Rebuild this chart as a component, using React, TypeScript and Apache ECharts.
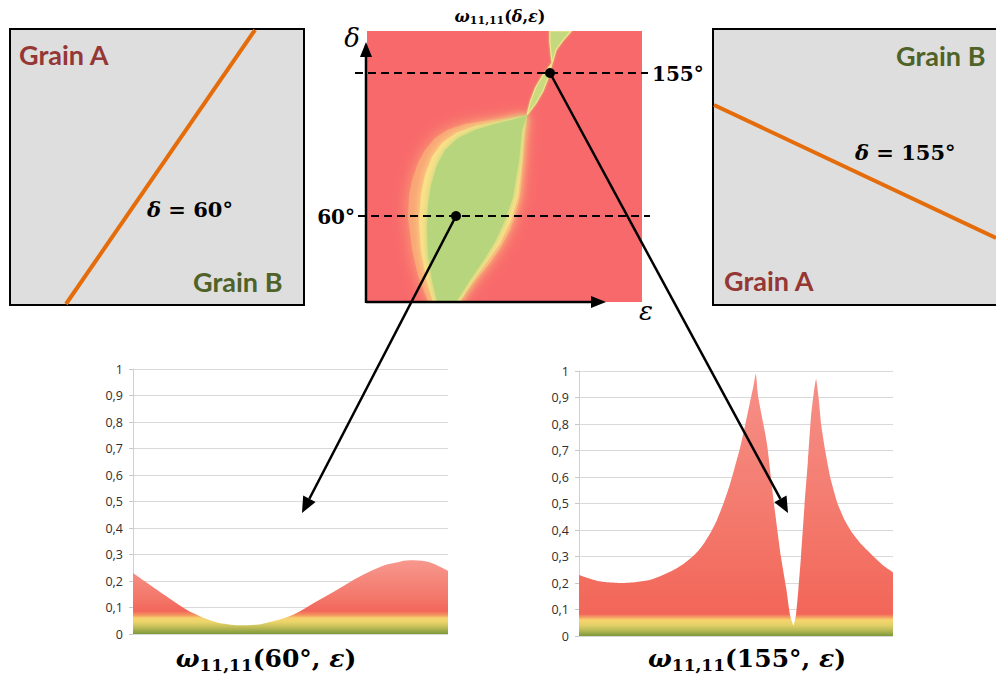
import React, { useEffect, useRef } from 'react';
import * as echarts from 'echarts';

// ---------- data ----------
const Y_TICK_LABELS = ['0', '0,1', '0,2', '0,3', '0,4', '0,5', '0,6', '0,7', '0,8', '0,9', '1'];

// omega_{11,11}(60°, eps) ; eps in % of range
const EPS_60 = [0, 5.3, 10.6, 16.9, 21.2, 26.5, 30, 33.9, 39.2, 44.4, 50.8, 58.2, 65.6, 72, 79.4, 84, 87.8, 93.1, 100];
const OMEGA_60 = [0.23, 0.186, 0.142, 0.092, 0.067, 0.044, 0.037, 0.033, 0.035, 0.048, 0.073, 0.123, 0.173, 0.217, 0.258, 0.271, 0.278, 0.274, 0.239];

// omega_{11,11}(155°, eps)
const EPS_155 = [0, 3, 6, 9, 13.5, 18, 22, 25, 28, 31, 33.5, 36, 38, 40, 42, 44, 46, 48, 49.5, 51.3, 53, 54.5, 55.5, 56.3, 57.1, 59.8, 62.2, 64.3, 66, 67.2, 68.3, 69.1, 69.9, 70.7, 71.8, 72.9, 73.9, 74.9, 75.5, 76.3, 77.1, 78.4, 80, 82.2, 84.5, 87, 90, 93.8, 97, 100];
const OMEGA_155 = [0.23, 0.218, 0.208, 0.203, 0.2, 0.203, 0.21, 0.222, 0.237, 0.255, 0.274, 0.298, 0.322, 0.353, 0.392, 0.44, 0.5, 0.57, 0.632, 0.71, 0.8, 0.885, 0.94, 0.99, 0.9, 0.73, 0.49, 0.3, 0.18, 0.08, 0.04, 0.08, 0.18, 0.3, 0.49, 0.66, 0.83, 0.93, 0.97, 0.9, 0.8, 0.7, 0.6, 0.505, 0.44, 0.39, 0.345, 0.3, 0.265, 0.24];

// heat-map low-value regions, outlines as [eps %, delta °]
const LENS_HALO = [[22.2, 0], [18.5, 17.9], [16.4, 34.5], [14.9, 56.5], [15.3, 71.1], [16.4, 81], [18.5, 92.3], [21.1, 101], [24.7, 108.9], [29.1, 114.2], [35.6, 118.2], [42.9, 120.2], [52, 122.2], [58.2, 124.2], [57.5, 112.2], [56.7, 92.3], [55.6, 69.7], [53.8, 57.8], [52, 47.8], [48.4, 35.9], [44.7, 25.9], [40.4, 16.6], [37.5, 10], [34.5, 4], [33.1, 0]];
const LENS_YELLOW = [[24, 0], [21.5, 15.9], [19.6, 34.5], [18.9, 53.1], [19.6, 71.1], [21.1, 84.4], [23.6, 96.3], [27.3, 105.6], [32.4, 112.2], [39.3, 116.9], [48.4, 120.2], [58.2, 124.2], [57.1, 110.9], [56.4, 93], [54.9, 69.7], [52.4, 54.5], [48.4, 39.2], [43.6, 26.6], [38.5, 13.9], [33.8, 0]];
const LENS_GREEN = [[25.5, 0], [23.6, 14.6], [22.2, 31.2], [21.8, 47.8], [22.2, 64.4], [23.3, 77.7], [25.5, 91], [28.4, 101], [33.1, 108.9], [39.3, 114.2], [46.5, 118.2], [53.8, 121.5], [58.2, 124.2], [56.4, 114.2], [55.3, 94.3], [53.1, 69.7], [50.2, 54.5], [46.9, 41.2], [42.5, 27.9], [37.5, 14.6], [32.4, 0]];
const LENS_MID = [[58.2, 124.2], [61.4, 132], [64, 140.3], [65.9, 149.3], [67.3, 158.7], [64.1, 150.9], [61.4, 142.6], [59.5, 133.6]];
const LENS_TOP = [[67.3, 158.7], [68.7, 167.4], [71.3, 174], [74.2, 180], [66.5, 180], [66.5, 172.7], [66.9, 165.4]];

const LENS_LAYERS = [
  { pts: LENS_HALO, fill: '#F9A675', blur: 16, stroke: 'none', lw: 0 },
  { pts: LENS_YELLOW, fill: '#FBE088', blur: 8, stroke: 'none', lw: 0 },
  { pts: LENS_GREEN, fill: '#B6D57D', blur: 6, stroke: 'none', lw: 0 },
  { pts: LENS_MID, fill: '#C9DA80', blur: 2, stroke: '#F6E58A', lw: 1.2 },
  { pts: LENS_TOP, fill: '#C4D97F', blur: 2, stroke: '#F6E58A', lw: 1.2 },
];

const MATH = 'DejaVu Serif';

function arrow(x1: number, y1: number, x2: number, y2: number, head = 16, half = 7, lw = 2.5) {
  const dx = x2 - x1, dy = y2 - y1;
  const L = Math.hypot(dx, dy);
  const ux = dx / L, uy = dy / L;
  const bx = x2 - head * ux, by = y2 - head * uy;
  const nx = -uy, ny = ux;
  return [
    { type: 'line', z: 100, shape: { x1, y1, x2: bx, y2: by }, style: { stroke: '#000', lineWidth: lw } },
    { type: 'polygon', z: 100, shape: { points: [[x2, y2], [bx + half * nx, by + half * ny], [bx - half * nx, by - half * ny]] }, style: { fill: '#000' } },
  ];
}

function txt(x: number, y: number, text: string, font: string, fill: string, align = 'left', valign = 'middle', rich?: any) {
  return {
    type: 'text', z: 110,
    style: { x, y, text, font, fill, align, textAlign: align, verticalAlign: valign, textVerticalAlign: valign, rich },
  };
}

function omegaRich(main: number, sub: number) {
  const lh = Math.round(main * 1.25);
  return {
    w: { fontFamily: MATH, fontSize: main, fontWeight: 'bold', fontStyle: 'italic', fill: '#000', lineHeight: lh, verticalAlign: 'middle' },
    s: { fontFamily: MATH, fontSize: sub, fontWeight: 'bold', fill: '#000', lineHeight: Math.round(sub * 1.1), verticalAlign: 'bottom' },
    p: { fontFamily: MATH, fontSize: main, fontWeight: 'bold', fill: '#000', lineHeight: lh, verticalAlign: 'middle' },
    i: { fontFamily: MATH, fontSize: main, fontWeight: 'bold', fontStyle: 'italic', fill: '#000', lineHeight: lh, verticalAlign: 'middle' },
  };
}

function areaGradient(yTop: number, yBottom: number, stops: [number, string][]) {
  return new echarts.graphic.LinearGradient(0, yTop, 0, yBottom,
    stops.map(([y, c]) => ({ offset: (y - yTop) / (yBottom - yTop), color: c })), true);
}

export default function App() {
  const ref = useRef<HTMLDivElement>(null);

  useEffect(() => {
    if (!ref.current) return;
    const chart = echarts.init(ref.current, undefined, { renderer: 'svg' });

    const yAxisCommon = (gridIndex: number) => ({
      type: 'value', gridIndex, min: 0, max: 1, interval: 0.1,
      axisLine: { show: true, lineStyle: { color: '#D0D0D0', width: 1 } },
      axisTick: { show: true, length: 4, lineStyle: { color: '#C8C8C8' } },
      axisLabel: {
        margin: 10, color: '#2E2E2E', fontFamily: 'Open Sans', fontSize: 12.5,
        formatter: (v: number) => Y_TICK_LABELS[Math.round(v * 10)],
      },
      splitLine: { show: true, lineStyle: { color: '#D9D9D9', width: 1 } },
    });

    const deltaRich = {
      i: { fontFamily: MATH, fontSize: 21, fontWeight: 'bold', fontStyle: 'italic', fill: '#000' },
      p: { fontFamily: MATH, fontSize: 21, fontWeight: 'bold', fill: '#000' },
    };

    const graphics: any[] = [
      // left grain box
      { type: 'rect', z: 1, shape: { x: 10, y: 29, width: 294, height: 276 }, style: { fill: '#DEDEDE', stroke: '#000', lineWidth: 2 } },
      { type: 'line', z: 2, shape: { x1: 255, y1: 30, x2: 66, y2: 304 }, style: { stroke: '#E46C0A', lineWidth: 4 } },
      txt(19, 54, 'Grain A', 'bold 27px Lato', '#953735'),
      txt(193, 281, 'Grain B', 'bold 27px Lato', '#4F6228'),
      txt(147, 209, '{i|δ}{p| = 60°}', '', '#000', 'left', 'middle', deltaRich),
      // right grain box
      { type: 'rect', z: 1, shape: { x: 713, y: 29, width: 300, height: 276 }, style: { fill: '#DEDEDE', stroke: '#000', lineWidth: 2 } },
      { type: 'line', z: 2, shape: { x1: 714, y1: 105, x2: 996, y2: 238 }, style: { stroke: '#E46C0A', lineWidth: 4 } },
      txt(896, 55, 'Grain B', 'bold 27px Lato', '#4F6228'),
      txt(724, 280, 'Grain A', 'bold 27px Lato', '#953735'),
      txt(855, 152, '{i|δ}{p| = 155°}', '', '#000', 'left', 'middle', deltaRich),
      // heat-map annotations
      txt(500, 16, '{w|ω}{s|11,11}{p|(}{i|δ}{p|,}{i|ε}{p|)}', '', '#000', 'center', 'middle', omegaRich(16, 11)),
      txt(352, 38, 'δ', 'italic 26px "DejaVu Serif"', '#000', 'center', 'middle'),
      txt(646, 311, 'ε', 'italic 26px "DejaVu Serif"', '#000', 'center', 'middle'),
      ...arrow(366, 303, 366, 42, 15, 6, 2.5),
      ...arrow(366, 302, 606, 302, 15, 6, 2.5),
      { type: 'line', z: 100, shape: { x1: 355, y1: 73, x2: 648, y2: 73 }, style: { stroke: '#000', lineWidth: 2, lineDash: [8, 5] } },
      { type: 'line', z: 100, shape: { x1: 358, y1: 216, x2: 650, y2: 216 }, style: { stroke: '#000', lineWidth: 2, lineDash: [8, 5] } },
      txt(652, 74, '155°', `bold 20px "${MATH}"`, '#000', 'left', 'middle'),
      txt(355, 217, '60°', `bold 20px "${MATH}"`, '#000', 'right', 'middle'),
      ...arrow(456, 216, 302, 513, 16, 7, 2.5),
      ...arrow(550, 73, 788, 513, 16, 7, 2.5),
      { type: 'circle', z: 105, shape: { cx: 456, cy: 216, r: 5 }, style: { fill: '#000' } },
      { type: 'circle', z: 105, shape: { cx: 550, cy: 73, r: 5 }, style: { fill: '#000' } },
      // bottom captions
      txt(266, 658, '{w|ω}{s|11,11}{p|(60°, }{i|ε}{p|)}', '', '#000', 'center', 'middle', omegaRich(25, 17)),
      txt(747, 658, '{w|ω}{s|11,11}{p|(155°, }{i|ε}{p|)}', '', '#000', 'center', 'middle', omegaRich(25, 17)),
    ];

    chart.setOption({
      animation: false,
      backgroundColor: '#FFFFFF',
      grid: [
        { left: 367, top: 31, width: 275, height: 271, show: true, backgroundColor: '#F8696B', borderWidth: 0 },
        { left: 133, top: 369, width: 315, height: 265 },
        { left: 579, top: 371, width: 314, height: 265 },
      ],
      xAxis: [
        { type: 'value', gridIndex: 0, min: 0, max: 100, show: false },
        { type: 'value', gridIndex: 1, min: 0, max: 100, show: false },
        { type: 'value', gridIndex: 2, min: 0, max: 100, show: false },
      ],
      yAxis: [
        { type: 'value', gridIndex: 0, min: 0, max: 180, show: false },
        yAxisCommon(1),
        yAxisCommon(2),
      ],
      series: [
        {
          type: 'custom', xAxisIndex: 0, yAxisIndex: 0, clip: true,
          data: LENS_LAYERS.map((_, i) => [i, 0]),
          renderItem: (params: any, api: any) => {
            const s = LENS_LAYERS[params.dataIndex];
            return {
              type: 'polygon',
              shape: { points: s.pts.map((p) => api.coord(p)) },
              style: { fill: s.fill, stroke: s.stroke, lineWidth: s.lw, shadowBlur: s.blur, shadowColor: s.fill },
            };
          },
        },
        {
          type: 'line', xAxisIndex: 1, yAxisIndex: 1, smooth: 0.35, showSymbol: false,
          data: EPS_60.map((e, i) => [e, OMEGA_60[i]]),
          lineStyle: { width: 0 },
          areaStyle: {
            opacity: 1,
            color: areaGradient(560, 634, [[560, '#F7988E'], [598, '#F3776A'], [611, '#F2665A'], [615, '#F3935F'], [618, '#F7D26E'], [622, '#EBD46A'], [627, '#C4BF59'], [634, '#7C983A']]),
          },
        },
        {
          type: 'line', xAxisIndex: 2, yAxisIndex: 2, smooth: 0.18, showSymbol: false,
          data: EPS_155.map((e, i) => [e, OMEGA_155[i]]),
          lineStyle: { width: 0 },
          areaStyle: {
            opacity: 1,
            color: areaGradient(374, 636, [[374, '#F69088'], [500, '#F47C70'], [600, '#F2695B'], [614, '#F2665A'], [617, '#F49C63'], [620, '#F7D46E'], [625, '#E4D068'], [630, '#BDBC58'], [636, '#7C983A']]),
          },
        },
      ],
      graphic: { elements: graphics },
    });

    return () => chart.dispose();
  }, []);

  return <div ref={ref} style={{ position: 'fixed', left: 0, top: 0, width: 996, height: 677 }} />;
}
